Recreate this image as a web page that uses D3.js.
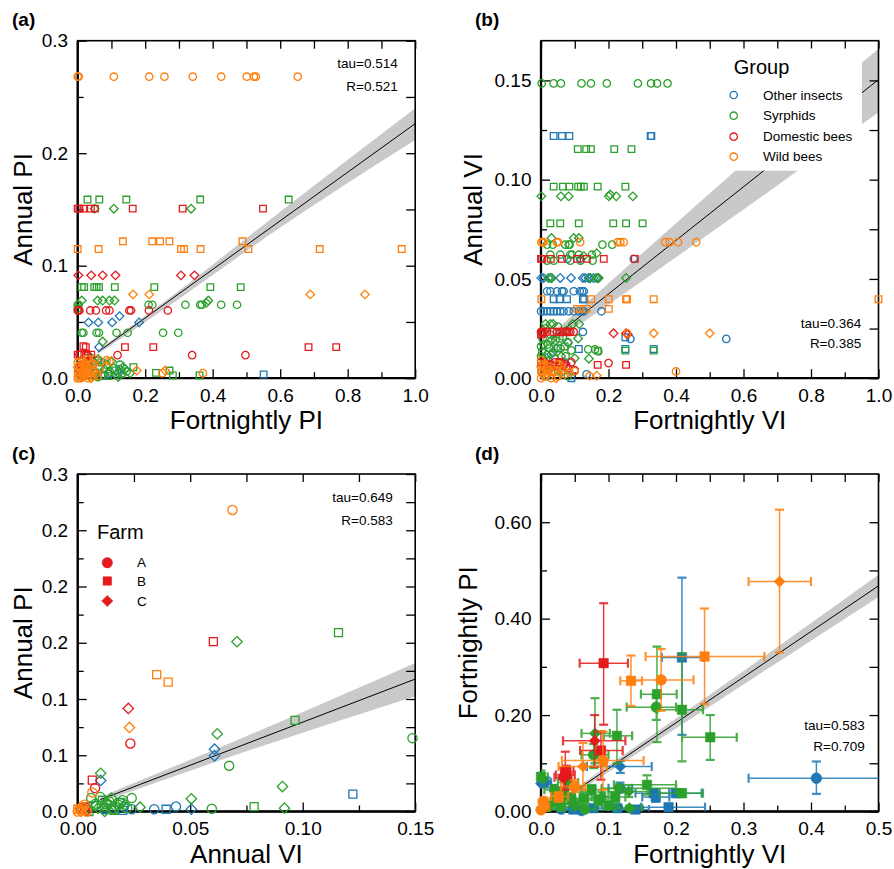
<!DOCTYPE html>
<html><head><meta charset="utf-8">
<script src="https://cdn.jsdelivr.net/npm/d3@7"></script>
<style>
body{margin:0;background:#fff}
svg text{font-family:"Liberation Sans",Arial,Helvetica,sans-serif;fill:#000}
</style>
</head><body>
<svg id="chart" width="894" height="869"></svg>
<script>
// ---------- groups / farms ----------
const groupNames = ["Other insects","Syrphids","Domestic bees","Wild bees"];
const groupColors = ["#1f77b4","#2ca02c","#e41a1c","#ff7f0e"];
const farmNames = ["A","B","C"];

// ---------- panel (a): Fortnightly PI (x) vs Annual PI (y); rows [farm, x, y] ----------
const aOther = [["C",0.032,0.0496],["C",0.061,0.0496],["C",0.102,0.0496],["C",0.182,0.0496],["C",0.124,0.0552],["C",0.063,0.0276],["C",0.120,0.0045],["B",0.551,0.0033],["A",0.061,0.016],["A",0.124,0.008],["A",0.09,0.004],["B",0.05,0.005],["A",0.03,0.012],["C",0.04,0.018],["B",0.08,0.002]];
const aSyrphids = [["B",0.029,0.1588],["B",0.064,0.1588],["B",0.144,0.1588],["B",0.363,0.1588],["B",0.625,0.1588],
 ["C",0.107,0.1507],["C",0.336,0.1507],["C",0.05,0.1507],
 ["B",0.012,0.081],["B",0.019,0.081],["B",0.049,0.081],["B",0.056,0.081],["B",0.063,0.081],["B",0.110,0.081],["B",0.227,0.081],["B",0.393,0.081],["B",0.483,0.081],
 ["C",0.012,0.069],["C",0.059,0.069],["C",0.074,0.069],["C",0.094,0.069],["C",0.109,0.069],["C",0.387,0.069],["C",0.381,0.067],
 ["A",0.0,0.0653],["A",0.003,0.0653],["A",0.210,0.0653],["A",0.221,0.0653],["A",0.319,0.0653],["A",0.363,0.0653],["A",0.368,0.0653],["A",0.425,0.0653],["A",0.472,0.0653],["A",0.0,0.062],
 ["A",0.012,0.0404],["A",0.017,0.0404],["A",0.056,0.0404],["A",0.063,0.0404],["A",0.115,0.0404],["A",0.148,0.0404],["A",0.253,0.0404],["A",0.298,0.0404],
 ["C",0.074,0.0326],
 ["B",0.165,0.0098],["B",0.232,0.0047],["B",0.272,0.0068],["B",0.282,0.0024],["B",0.361,0.0024],["C",0.155,0.0045],["C",0.14,0.008],
 ["A",0.02,0.012],["A",0.035,0.008],["A",0.045,0.015],["A",0.055,0.005],["A",0.065,0.010],["A",0.075,0.003],["A",0.085,0.012],["A",0.095,0.006],["A",0.105,0.009],["A",0.115,0.003],["A",0.125,0.012],
 ["B",0.03,0.018],["B",0.05,0.002],["B",0.07,0.014],["B",0.09,0.002],["B",0.11,0.007],["B",0.13,0.004],
 ["C",0.025,0.004],["C",0.04,0.010],["C",0.06,0.017],["C",0.08,0.008],["C",0.10,0.015],["C",0.12,0.001],["C",0.135,0.010],
 ["A",0.01,0.002],["B",0.015,0.009],["C",0.008,0.015],["A",0.06,0.001],["A",0.145,0.006]];
const aDomestic = [["B",0.0,0.1507],["B",0.005,0.1507],["B",0.017,0.1507],["B",0.039,0.1507],["B",0.051,0.1507],["B",0.163,0.1507],["B",0.311,0.1507],["B",0.549,0.1507],
 ["C",0.002,0.0914],["C",0.040,0.0914],["C",0.074,0.0914],["C",0.112,0.0914],["C",0.306,0.0914],["C",0.346,0.0914],
 ["A",0.0,0.0602],["A",0.003,0.0602],["A",0.005,0.0602],["A",0.037,0.0602],["A",0.054,0.0602],["A",0.084,0.0602],["A",0.094,0.0602],["A",0.153,0.0602],["A",0.158,0.0602],["A",0.211,0.0602],["A",0.267,0.0602],
 ["B",0.017,0.0285],["B",0.024,0.0276],["B",0.140,0.0276],["B",0.224,0.0276],["B",0.684,0.0276],["B",0.766,0.0276],
 ["A",0.118,0.0205],["A",0.339,0.0205],["A",0.497,0.0205],
 ["B",0.0,0.021],["B",0.01,0.021],["B",0.025,0.021],["B",0.04,0.021],["A",0.005,0.021],["A",0.03,0.02],
 ["A",0.002,0.008],["B",0.015,0.012],["C",0.01,0.005],["A",0.03,0.014]];
const aWild = [["A",0.0,0.268],["A",0.003,0.268],["A",0.107,0.268],["A",0.212,0.268],["A",0.257,0.268],["A",0.341,0.268],["A",0.425,0.268],["A",0.501,0.268],["A",0.522,0.268],["A",0.528,0.268],["A",0.652,0.268],
 ["B",0.134,0.1217],["B",0.221,0.1217],["B",0.244,0.1217],["B",0.272,0.1217],["B",0.488,0.1217],
 ["B",0.0,0.1148],["B",0.062,0.1148],["B",0.306,0.1148],["B",0.315,0.1148],["B",0.364,0.1148],["B",0.506,0.1148],["B",0.717,0.1148],["B",0.960,0.1148],
 ["C",0.164,0.0745],["C",0.212,0.0745],["C",0.689,0.0745],["C",0.851,0.0745],
 ["C",0.175,0.0068],["C",0.259,0.0068],["A",0.251,0.0045],["A",0.371,0.0045],["A",0.086,0.016],["A",0.094,0.015],
 ["B",0.027,0.017],["B",0.052,0.017],
 ["A",0.0,0.0],["A",0.005,0.003],["A",0.01,0.008],["A",0.015,0.001],["A",0.02,0.012],["A",0.025,0.005],["A",0.03,0.0],["A",0.035,0.009],["A",0.04,0.003],["A",0.045,0.013],
 ["B",0.0,0.005],["B",0.005,0.011],["B",0.012,0.015],["B",0.018,0.004],["B",0.024,0.009],["B",0.03,0.002],["B",0.038,0.012],["B",0.046,0.006],
 ["C",0.0,0.01],["C",0.008,0.002],["C",0.015,0.007],["C",0.022,0.014],["C",0.03,0.006],["C",0.04,0.0],
 ["A",0.0,0.014],["A",0.06,0.002],["B",0.065,0.009],["C",0.055,0.004],["A",0.008,0.0],["B",0.002,0.0]];
const aLine = [[0.06,0.0233],[1.0,0.2263]];
const aBand = [[0.06,0.0215,0.0251],[0.3,0.0705,0.0778],[0.6,0.1340,0.1480],[1.0,0.2118,0.2400]];
const aStats = ["tau=0.514","R=0.521"];

// ---------- panel (b): Fortnightly VI (x) vs Annual VI (y) ----------
const bOther = [["B",0.0375,0.122],["B",0.062,0.122],["B",0.084,0.122],["B",0.325,0.122],["B",0.327,0.122],
 ["A",0.078,0.0601],["C",0.117,0.0601],["A",0.275,0.0601],
 ["C",0.001,0.0505],["C",0.008,0.0505],["C",0.028,0.0505],["C",0.057,0.0505],["C",0.089,0.0505],["C",0.124,0.0505],["C",0.131,0.0505],["C",0.141,0.0505],["C",0.146,0.0505],["C",0.156,0.0505],["C",0.168,0.0505],
 ["A",0.018,0.0438],["A",0.028,0.0438],["A",0.047,0.0438],["A",0.062,0.0438],["A",0.067,0.0438],["A",0.097,0.0438],["A",0.115,0.0438],["A",0.122,0.0438],["A",0.127,0.0438],
 ["B",0.0375,0.0398],["B",0.055,0.0398],["B",0.077,0.0398],["B",0.124,0.0398],["B",0.128,0.0398],
 ["A",0.0,0.0337],["A",0.008,0.0337],["A",0.018,0.0337],["A",0.028,0.0337],["A",0.0375,0.0337],["A",0.047,0.0337],["A",0.057,0.0337],["A",0.067,0.0337],["A",0.082,0.0337],["A",0.097,0.0337],["A",0.112,0.0337],["A",0.122,0.0337],["A",0.127,0.0337],["A",0.179,0.0337],
 ["A",0.124,0.0233],["B",0.25,0.0206],["A",0.265,0.0198],["A",0.549,0.0198],
 ["B",0.112,0.0147],["B",0.25,0.0147],["B",0.334,0.0147],
 ["C",0.03,0.012],["A",0.07,0.008],["B",0.05,0.015],["A",0.1,0.004],["C",0.08,0.018],["B",0.09,0.0],["A",0.135,0.002]];
const bSyrphids = [["A",0.002,0.1485],["A",0.0375,0.1485],["A",0.059,0.1485],["A",0.120,0.1485],["A",0.148,0.1485],["A",0.195,0.1485],["A",0.287,0.1485],["A",0.326,0.1485],["A",0.344,0.1485],["A",0.375,0.1485],
 ["B",0.109,0.1154],["B",0.134,0.1154],["B",0.148,0.1154],["B",0.217,0.1154],["B",0.268,0.1154],
 ["B",0.0375,0.0965],["B",0.065,0.0965],["B",0.084,0.0965],["B",0.11,0.0965],["B",0.118,0.0965],["B",0.127,0.0965],["B",0.168,0.0965],["B",0.25,0.0965],
 ["C",0.001,0.0916],["C",0.059,0.0916],["C",0.082,0.0916],["C",0.201,0.0916],["C",0.205,0.0925],["C",0.223,0.0916],["C",0.272,0.0916],
 ["B",0.0276,0.078],["B",0.057,0.078],["B",0.112,0.078],["B",0.214,0.078],["B",0.252,0.078],["B",0.301,0.078],
 ["C",0.031,0.0706],["C",0.097,0.0706],["C",0.112,0.0706],
 ["A",0.018,0.0673],["A",0.035,0.0673],["A",0.072,0.0673],["A",0.082,0.0673],["A",0.085,0.0673],["A",0.182,0.0673],["A",0.211,0.0673],
 ["A",0.0276,0.0622],["A",0.057,0.0622],["A",0.087,0.0622],["A",0.092,0.0622],["A",0.112,0.0622],["A",0.151,0.0622],
 ["C",0.165,0.063],["C",0.127,0.0615],
 ["A",0.018,0.0592],["A",0.0375,0.0592],["A",0.087,0.0592],["A",0.117,0.0592],["A",0.153,0.0592],
 ["C",0.022,0.0505],["C",0.032,0.0505],["C",0.144,0.0505],["C",0.164,0.0505],["C",0.171,0.0505],["C",0.252,0.0505],
 ["C",0.013,0.0273],["C",0.028,0.0273],["C",0.036,0.0273],["C",0.094,0.0273],["C",0.113,0.0273],
 ["B",0.168,0.0139],["B",0.25,0.0139],["B",0.334,0.0139],
 ["A",0.14,0.0145],["A",0.16,0.0145],["A",0.17,0.0135],["C",0.142,0.0098],
 ["A",0.005,0.02],["A",0.012,0.025],["A",0.02,0.017],["A",0.028,0.022],["A",0.035,0.013],["A",0.043,0.019],["A",0.05,0.026],["A",0.058,0.015],["A",0.065,0.021],["A",0.073,0.011],["A",0.08,0.018],["A",0.09,0.014],
 ["B",0.003,0.013],["B",0.015,0.009],["B",0.025,0.015],["B",0.04,0.01],["B",0.055,0.02],["B",0.07,0.016],
 ["C",0.008,0.017],["C",0.018,0.012],["C",0.03,0.019],["C",0.045,0.015],["C",0.06,0.011],["C",0.075,0.024],["C",0.1,0.01],["C",0.11,0.02],
 ["A",0.0,0.016],["A",0.0,0.011],["A",0.01,0.005],["A",0.03,0.006],["A",0.05,0.004],["C",0.06,0.003],["A",0.08,0.001],["A",0.015,0.001]];
const bDomestic = [["B",0.0,0.0601],["B",0.003,0.0601],["B",0.029,0.0601],["B",0.062,0.0601],["B",0.107,0.0601],["B",0.136,0.0601],["B",0.186,0.0601],["B",0.278,0.0601],
 ["A",0.0,0.0233],["A",0.003,0.0233],["A",0.008,0.0233],["A",0.018,0.0233],["A",0.034,0.0233],["A",0.047,0.0233],["A",0.057,0.0233],["A",0.064,0.0233],["A",0.072,0.0233],["A",0.077,0.0233],["A",0.082,0.0233],["A",0.087,0.0233],["A",0.097,0.0233],
 ["B",0.0,0.022],["B",0.004,0.0225],
 ["C",0.215,0.0226],["C",0.252,0.0226],["C",0.257,0.0222],
 ["B",0.168,0.0067],["B",0.252,0.0067],["A",0.2,0.0076],
 ["A",0.0,0.006],["A",0.01,0.008],["A",0.02,0.006],["A",0.03,0.007],["A",0.04,0.008],["A",0.05,0.006],["A",0.06,0.008],["A",0.07,0.007],["A",0.08,0.005],["A",0.09,0.008],
 ["B",0.0,0.008],["B",0.015,0.007],["B",0.035,0.006],["B",0.055,0.008],["B",0.075,0.006],["C",0.025,0.005],["C",0.065,0.004],["A",0.1,0.004]];
const bWild = [["A",0.001,0.0685],["A",0.005,0.0685],["A",0.008,0.0685],["A",0.047,0.0685],["A",0.051,0.0685],["A",0.116,0.0685],["A",0.227,0.0685],["A",0.235,0.0685],["A",0.245,0.0685],["A",0.368,0.0685],["A",0.381,0.0685],["A",0.406,0.0685],["A",0.460,0.0685],
 ["B",0.001,0.0398],["B",0.149,0.0398],["B",0.201,0.0398],["B",0.252,0.0398],["B",0.255,0.0398],["B",0.334,0.0398],["B",1.0,0.0398],
 ["B",0.107,0.0349],["B",0.117,0.0349],["B",0.135,0.0349],["B",0.201,0.0349],
 ["C",0.334,0.0226],["C",0.5,0.0226],["A",0.255,0.0226],
 ["A",0.4,0.0034],["C",0.144,0.0013],["C",0.165,0.0013],
 ["A",0.0,0.0],["A",0.003,0.003],["A",0.01,0.001],["A",0.015,0.005],["A",0.02,0.002],["A",0.03,0.0],["A",0.04,0.004],["A",0.05,0.001],["A",0.06,0.006],["A",0.07,0.002],["A",0.085,0.003],["A",0.1,0.0035],
 ["B",0.0,0.004],["B",0.008,0.007],["B",0.02,0.006],["B",0.035,0.003],["B",0.05,0.007],
 ["C",0.005,0.002],["C",0.025,0.004],["C",0.045,0.0],["C",0.065,0.004],["A",0.0,0.009],["A",0.0,0.006]];
const bLine = [[0.03,0.0195],[1.0,0.1504]];
const bBand = [[0.03,0.017,0.022],[0.3,0.049,0.063],[0.65,0.091,0.1155],[1.0,0.134,0.166]];
const bStats = ["tau=0.364","R=0.385"];

// ---------- panel (c): Annual VI (x) vs Annual PI (y) ----------
const cOther = [["C",0.0608,0.0554],["C",0.0608,0.0495],["B",0.1223,0.0154],["A",0.0437,0.0044],["A",0.034,0.002],["A",0.024,0.002],["B",0.0393,0.002],["C",0.0505,0.002],["C",0.0102,0.0276],["A",0.019,0.0074],["A",0.0205,0.004],["B",0.015,0.003],["B",0.02,0.001],["C",0.008,0.005],["A",0.012,0.002]];
const cSyrphids = [["C",0.0708,0.151],["B",0.1159,0.159],["B",0.0966,0.081],["C",0.062,0.069],["A",0.1488,0.0652],["A",0.0673,0.0406],["C",0.091,0.0222],["C",0.0505,0.0113],["B",0.0784,0.0044],["C",0.0919,0.003],["A",0.0596,0.0024],["A",0.024,0.0119],["C",0.0102,0.034],["C",0.0277,0.0038],
 ["A",0.006,0.012],["A",0.008,0.007],["A",0.01,0.013],["A",0.012,0.004],["A",0.014,0.009],["A",0.016,0.002],["A",0.018,0.006],["A",0.02,0.01],["A",0.022,0.003],
 ["B",0.007,0.005],["B",0.011,0.01],["B",0.013,0.006],["B",0.016,0.001],["B",0.019,0.008],
 ["C",0.009,0.003],["C",0.013,0.008],["C",0.015,0.012],["C",0.017,0.004],["C",0.021,0.006],["A",0.004,0.003],["B",0.005,0.0],["C",0.012,0.0]];
const cDomestic = [["B",0.0603,0.151],["C",0.0225,0.0916],["A",0.0234,0.0605],["B",0.0065,0.0279],["A",0.0077,0.0208],["A",0.002,0.002],["B",0.003,0.004],["C",0.004,0.001]];
const cWild = [["A",0.0688,0.268],["B",0.0351,0.1216],["B",0.0402,0.115],["C",0.023,0.0747],["A",0.0065,0.0169],["A",0.0,0.0],["A",0.001,0.002],["A",0.002,0.004],["B",0.0,0.002],["B",0.002,0.001],["C",0.001,0.003],["A",0.003,0.006],["C",0.0015,0.0],["A",0.004,0.0]];
const cLine = [[0.01,0.0105],[0.15,0.1177]];
const cBand = [[0.01,0.008,0.013],[0.075,0.0535,0.0670],[0.15,0.1025,0.1320]];
const cStats = ["tau=0.649","R=0.583"];

// ---------- panel (d): Fortnightly VI (x) vs Fortnightly PI (y); rows [farm, x, y, xlo, xhi, ylo, yhi] ----------
const dOther = [["A",0.408,0.069,0.3075,0.55,0.0366,0.1037],["B",0.2088,0.3194,0.179,0.241,0.159,0.485],["C",0.1175,0.0933,0.068,0.164,0.08,0.105],["A",0.117,0.048,0.1,0.135,0.04,0.06],["B",0.167,0.038,0.14,0.19,0.03,0.046],["B",0.189,0.009,0.148,0.243,0.004,0.014],["B",0.113,0.007,0.09,0.13,0.0,0.012],["B",0.078,0.007,0.06,0.1,0.0,0.012],["B",0.048,0.004,0.03,0.06,0.0,0.008],["C",0.008,0.06,0.0,0.015,0.05,0.07],["A",0.03,0.005,0.01,0.045,0.0,0.01],["B",0.2,0.038,0.19,0.238,0.03,0.045],
 ["B",0.14,0.004,0.12,0.16,0.0,0.01],["A",0.06,0.002,0.04,0.08,0.0,0.008],["B",0.17,0.03,0.15,0.19,0.02,0.04],["C",0.0,0.058,0.0,0.008,0.05,0.066]];
const dSyrphids = [["B",0.1718,0.2433,0.148,0.201,0.144,0.342],["A",0.1708,0.2164,0.127,0.2,0.19,0.24],["B",0.2088,0.211,0.172,0.24,0.104,0.328],["B",0.2507,0.154,0.209,0.29,0.107,0.2],["B",0.1125,0.157,0.093,0.135,0.1,0.211],["C",0.08,0.162,0.06,0.102,0.1,0.235],["A",0.078,0.1175,0.06,0.1,0.09,0.14],["B",0.157,0.0553,0.108,0.2,0.035,0.075],["C",0.13,0.0415,0.1,0.16,0.03,0.055],["C",0.115,0.048,0.09,0.2,0.04,0.056],["B",0.2088,0.038,0.176,0.24,0.03,0.046],["B",0.063,0.0277,0.05,0.08,0.015,0.04],["B",0.085,0.024,0.07,0.1,0.015,0.033],["C",0.131,0.007,0.11,0.15,0.0,0.012],["B",0.0,0.072,0.0,0.01,0.06,0.085],["B",0.02,0.02,0.005,0.035,0.01,0.03],["A",0.035,0.035,0.02,0.05,0.025,0.045],["C",0.05,0.015,0.035,0.065,0.008,0.022],["B",0.1,0.012,0.085,0.115,0.005,0.02],["A",0.01,0.01,0.0,0.02,0.0,0.02],["C",0.04,0.06,0.025,0.055,0.05,0.07],["A",0.065,0.005,0.05,0.08,0.0,0.01],
 ["B",0.03,0.01,0.015,0.045,0.0,0.02],["B",0.045,0.025,0.03,0.06,0.015,0.035],["A",0.02,0.045,0.005,0.035,0.035,0.055],["B",0.075,0.045,0.06,0.09,0.035,0.055],["B",0.11,0.03,0.095,0.125,0.02,0.04],["C",0.09,0.03,0.075,0.105,0.02,0.04]];
const dDomestic = [["B",0.0928,0.3076,0.0573,0.1288,0.18,0.432],["C",0.0795,0.1466,0.0326,0.125,0.093,0.2],["B",0.0888,0.1265,0.058,0.121,0.066,0.166],["B",0.036,0.076,0.022,0.05,0.045,0.124],["A",0.0336,0.071,0.02,0.045,0.05,0.09],["B",0.0375,0.083,0.03,0.048,0.07,0.095]];
const dWild = [["C",0.3534,0.477,0.3075,0.40,0.33,0.626],["B",0.2423,0.3215,0.155,0.331,0.223,0.421],["B",0.1333,0.271,0.1175,0.1496,0.219,0.3235],["A",0.178,0.273,0.13,0.226,0.209,0.337],["A",0.0918,0.1058,0.031,0.152,0.045,0.166],["C",0.0622,0.0933,0.026,0.0977,0.045,0.142],["A",0.0498,0.0518,0.03,0.065,0.04,0.065],["B",0.026,0.031,0.015,0.04,0.02,0.04],["A",0.003,0.0207,0.0,0.01,0.01,0.03],["A",0.0,0.0035,0.0,0.005,0.0,0.01],["C",0.005,0.01,0.0,0.012,0.0,0.02]];
const dLine = [[0.02,0.0136],[0.5,0.468]];
const dBand = [[0.02,0.009,0.018],[0.25,0.218,0.242],[0.5,0.445,0.491]];
const dStats = ["tau=0.583","R=0.709"];

// ---------- tick labels ----------
const xTicksA = [0,0.2,0.4,0.6,0.8,1.0], xLabelsA = ["0.0","0.2","0.4","0.6","0.8","1.0"];
const yTicksA = [0,0.1,0.2,0.3], yLabelsA = ["0.0","0.1","0.2","0.3"];
const yTicksB = [0,0.05,0.10,0.15], yLabelsB = ["0.00","0.05","0.10","0.15"];
const xTicksC = [0,0.05,0.10,0.15], xLabelsC = ["0.00","0.05","0.10","0.15"];
const yTicksC = [0,0.05,0.1,0.15,0.2,0.25,0.3], yLabelsC = ["0.0","0.1","0.1","0.2","0.2","0.2","0.3"];
const xTicksD = [0,0.1,0.2,0.3,0.4,0.5], xLabelsD = ["0.0","0.1","0.2","0.3","0.4","0.5"];
const yTicksD = [0,0.2,0.4,0.6], yLabelsD = ["0.00","0.20","0.40","0.60"];

// ---------- drawing ----------
const svg = d3.select("#chart");
const W = 337.5, H = 337.5;

function symbolPath(farm, sz){
  if (farm === "A") return d3.symbol(d3.symbolCircle, Math.PI*sz.r*sz.r)();
  if (farm === "B") return d3.symbol(d3.symbolSquare, sz.s*sz.s)();
  return d3.symbol(d3.symbolSquare, 2*sz.d*sz.d)();
}
function markerTransform(farm, px, py){
  return `translate(${px},${py})` + (farm === "C" ? " rotate(45)" : "");
}

function drawPanel(cfg){
  const g = svg.append("g").attr("transform",`translate(${cfg.left},${cfg.top})`);
  const x = d3.scaleLinear().domain(cfg.xDomain).range([0,W]);
  const y = d3.scaleLinear().domain(cfg.yDomain).range([H,0]);
  const clipId = "clip-"+cfg.id;
  g.append("clipPath").attr("id",clipId).append("rect").attr("width",W).attr("height",H);

  const area = d3.area().x(d=>x(d[0])).y0(d=>y(d[1])).y1(d=>y(d[2])).curve(d3.curveMonotoneX);
  g.append("path").datum(cfg.band).attr("d",area).attr("fill","#c9c9c9").attr("clip-path",`url(#${clipId})`);
  const line = d3.line().x(d=>x(d[0])).y(d=>y(d[1]));
  g.append("path").datum(cfg.line).attr("d",line).attr("fill","none").attr("stroke","#000").attr("stroke-width",1).attr("clip-path",`url(#${clipId})`);

  const styleAxis = sel => { sel.select(".domain").remove(); sel.attr("font-family",null).attr("font-size",null);
    sel.selectAll(".tick line").attr("stroke","#000").attr("stroke-width",1.3);
    sel.selectAll(".tick text").style("font-size","19px").attr("fill","#000"); };
  g.append("g").attr("transform",`translate(0,${H})`)
    .call(d3.axisBottom(x).tickValues(cfg.xTicks).tickFormat((d,i)=>cfg.xLabels[i]).tickSizeInner(-9).tickSizeOuter(0).tickPadding(10.5)).call(styleAxis);
  g.append("g").attr("transform",`translate(0,${H})`)
    .call(d3.axisBottom(x).tickValues(cfg.xMinor).tickFormat("").tickSizeInner(-6).tickSizeOuter(0)).call(styleAxis);
  g.append("g").call(d3.axisTop(x).tickValues(cfg.xTicks.concat(cfg.xMinor)).tickFormat("").tickSizeInner(-8).tickSizeOuter(0)).call(styleAxis);
  g.append("g")
    .call(d3.axisLeft(y).tickValues(cfg.yTicks).tickFormat((d,i)=>cfg.yLabels[i]).tickSizeInner(-9).tickSizeOuter(0).tickPadding(9.5)).call(styleAxis);
  g.append("g").call(d3.axisLeft(y).tickValues(cfg.yMinor).tickFormat("").tickSizeInner(-6).tickSizeOuter(0)).call(styleAxis);
  g.append("g").attr("transform",`translate(${W},0)`)
    .call(d3.axisRight(y).tickValues(cfg.yTicks.concat(cfg.yMinor)).tickFormat("").tickSizeInner(-9).tickSizeOuter(0)).call(styleAxis);

  g.append("rect").attr("width",W).attr("height",H).attr("fill","none").attr("stroke","#000").attr("stroke-width",1.6);
  g.append("path").attr("d",`M0,0V${H}H${W}`).attr("fill","none").attr("stroke","#000").attr("stroke-width",2.3);

  cfg.series.forEach((rows, gi) => {
    const col = groupColors[gi];
    if (cfg.errorBars){
      const eb = g.append("g").attr("clip-path",`url(#${clipId})`).attr("stroke",col).attr("opacity",0.85);
      rows.forEach(r => {
        const [f,vx,vy,xlo,xhi,ylo,yhi] = r;
        const px = x(vx), py = y(vy);
        eb.append("line").attr("x1",x(xlo)).attr("x2",x(xhi)).attr("y1",py).attr("y2",py).attr("stroke-width",1.5);
        eb.append("line").attr("x1",px).attr("x2",px).attr("y1",y(ylo)).attr("y2",y(yhi)).attr("stroke-width",1.5);
        [xlo,xhi].forEach(v=>eb.append("line").attr("x1",x(v)).attr("x2",x(v)).attr("y1",py-4.5).attr("y2",py+4.5).attr("stroke-width",2.2));
        [ylo,yhi].forEach(v=>eb.append("line").attr("y1",y(v)).attr("y2",y(v)).attr("x1",px-4.5).attr("x2",px+4.5).attr("stroke-width",2.2));
      });
    }
    g.append("g").selectAll("path").data(rows).join("path")
      .attr("d", r => symbolPath(r[0], cfg.size))
      .attr("transform", r => markerTransform(r[0], x(r[1]), y(r[2])))
      .attr("fill", cfg.filled ? col : "none")
      .attr("stroke", col)
      .attr("stroke-width", cfg.filled ? 0.5 : 1.3);
  });

  cfg.stats.forEach((t,i)=>{
    g.append("text").attr("x",cfg.statX).attr("y",cfg.statY[i]).attr("text-anchor","end").style("font-size","13.5px").text(t);
  });

  svg.append("text").attr("x",cfg.left+W/2).attr("y",cfg.top+H+51).attr("text-anchor","middle").style("font-size","26px").text(cfg.xTitle);
  svg.append("text").attr("transform",`translate(${cfg.yTitleX},${cfg.top+H/2}) rotate(-90)`).attr("text-anchor","middle").style("font-size","26px").text(cfg.yTitle);
  svg.append("text").attr("x",cfg.labelX).attr("y",cfg.labelY).style("font-size","19px").style("font-weight","bold").text(cfg.label);
  return {g,x,y};
}

const openSize = {r:3.7, s:6.6, d:4.3};
const openSizeC = {r:4.6, s:8, d:5.2};
const filledSize = {r:5.4, s:9.5, d:5.6};

drawPanel({id:"a", left:77.7, top:40.7, xDomain:[0,1], yDomain:[0,0.3],
  xTicks:xTicksA, xLabels:xLabelsA, xMinor:d3.range(0.1,1,0.2),
  yTicks:yTicksA, yLabels:yLabelsA, yMinor:d3.range(0.05,0.3,0.1),
  series:[aOther,aSyrphids,aDomestic,aWild], line:aLine, band:aBand, size:openSize, filled:false,
  stats:aStats, statX:320, statY:[27.5,50], xTitle:"Fortnightly PI", yTitle:"Annual PI", yTitleX:32,
  label:"(a)", labelX:12, labelY:26});

const pb = drawPanel({id:"b", left:541, top:40.7, xDomain:[0,1], yDomain:[0,0.17],
  xTicks:xTicksA, xLabels:xLabelsA, xMinor:d3.range(0.1,1,0.2),
  yTicks:yTicksB, yLabels:yLabelsB, yMinor:d3.range(0.025,0.17,0.05),
  series:[bOther,bSyrphids,bDomestic,bWild], line:bLine, band:bBand, size:openSize, filled:false,
  stats:bStats, statX:320.3, statY:[287.6,307.6], xTitle:"Fortnightly VI", yTitle:"Annual VI", yTitleX:482,
  label:"(b)", labelX:475, labelY:26});

const pc = drawPanel({id:"c", left:77.7, top:474, xDomain:[0,0.15], yDomain:[0,0.3],
  xTicks:xTicksC, xLabels:xLabelsC, xMinor:d3.range(0.025,0.15,0.05),
  yTicks:yTicksC, yLabels:yLabelsC, yMinor:d3.range(0.025,0.3,0.05),
  series:[cOther,cSyrphids,cDomestic,cWild], line:cLine, band:cBand, size:openSizeC, filled:false,
  stats:cStats, statX:315, statY:[27.7,51], xTitle:"Annual VI", yTitle:"Annual PI", yTitleX:32,
  label:"(c)", labelX:12, labelY:459.5});

drawPanel({id:"d", left:541, top:474, xDomain:[0,0.5], yDomain:[0,0.7],
  xTicks:xTicksD, xLabels:xLabelsD, xMinor:d3.range(0.05,0.5,0.1),
  yTicks:yTicksD, yLabels:yLabelsD, yMinor:d3.range(0.1,0.7,0.2),
  series:[dOther,dSyrphids,dDomestic,dWild], line:dLine, band:dBand, size:filledSize, filled:true, errorBars:true,
  stats:dStats, statX:323.7, statY:[256,276.7], xTitle:"Fortnightly VI", yTitle:"Fortnightly PI", yTitleX:477,
  label:"(d)", labelX:475, labelY:459.5});

// ---------- legend: Group (panel b) ----------
const lg = pb.g.append("g");
lg.append("rect").attr("x",181).attr("y",8).attr("width",140).attr("height",122).attr("fill","#fff");
lg.append("text").attr("x",192.7).attr("y",33.3).style("font-size","20px").text("Group");
const legendY = [54.3,75,96,116];
groupNames.forEach((nm,i)=>{
  lg.append("path").attr("d",symbolPath("A",openSize)).attr("transform",`translate(192.7,${legendY[i]})`)
    .attr("fill","none").attr("stroke",groupColors[i]).attr("stroke-width",1.3);
  lg.append("text").attr("x",222).attr("y",legendY[i]).attr("dy","0.35em").style("font-size","13.5px").text(nm);
});

// ---------- legend: Farm (panel c) ----------
const lf = pc.g.append("g");
lf.append("text").attr("x",19.3).attr("y",65).style("font-size","20px").text("Farm");
const farmY = [88.7,107,127];
farmNames.forEach((f,i)=>{
  lf.append("path").attr("d",symbolPath(f,{r:5.2,s:8.5,d:5.6})).attr("transform",markerTransform(f,29.6,farmY[i]))
    .attr("fill",groupColors[2]).attr("stroke",groupColors[2]).attr("stroke-width",0.5);
  lf.append("text").attr("x",59.3).attr("y",farmY[i]).attr("dy","0.35em").style("font-size","13.5px").text(f);
});
</script>
</body></html>
